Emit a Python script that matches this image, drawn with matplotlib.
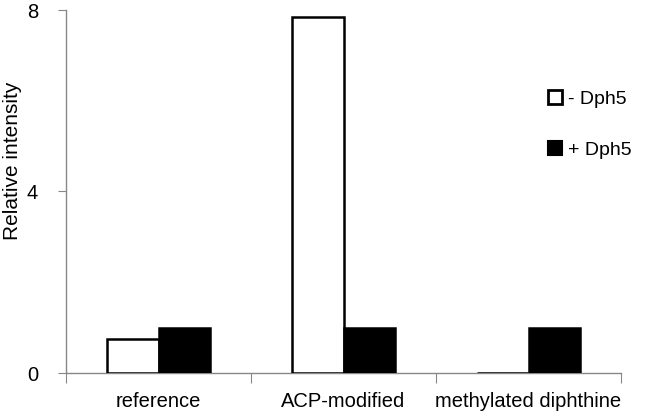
import matplotlib
matplotlib.use("Agg")
import matplotlib.pyplot as plt
import numpy as np
from matplotlib.patches import Patch

plt.rcParams['font.family'] = ['Liberation Sans', 'DejaVu Sans']

categories = ["reference", "ACP-modified", "methylated diphthine"]
minus_dph5 = [0.75, 7.85, 0.0]
plus_dph5 = [1.0, 1.0, 1.0]
series_labels = ["- Dph5", "+ Dph5"]
yticks = [0, 4, 8]

fig = plt.figure(figsize=(6.54, 4.19), dpi=100)
ax = fig.add_axes([66/654, 1-373/419, (621-66)/654, (373-10)/419])

x = np.arange(len(categories))
w = 0.28
ax.bar(x - w/2, minus_dph5, w, color="white", edgecolor="black", linewidth=1.8, zorder=3)
ax.bar(x + w/2, plus_dph5, w, color="black", edgecolor="black", linewidth=1.8, zorder=3)

ax.set_xlim(-0.5, len(categories) - 0.5)
ax.set_ylim(0, 8)
ax.set_yticks(yticks)
ax.set_yticklabels([str(v) for v in yticks], fontsize=14.5)
ax.tick_params(axis='y', direction='out', length=6, color='#888888', pad=14)

ax.set_xticks(np.arange(-0.5, len(categories)), minor=False)
ax.set_xticklabels([""] * (len(categories) + 1))
ax.set_xticks(x, minor=True)
ax.set_xticklabels(categories, minor=True, fontsize=14.5)
ax.tick_params(axis='x', which='major', direction='out', length=7, color='#888888')
ax.tick_params(axis='x', which='minor', length=0, pad=14)

for s in ['top', 'right']:
    ax.spines[s].set_visible(False)
for s in ['left', 'bottom']:
    ax.spines[s].set_color('#888888')
    ax.spines[s].set_linewidth(1.0)

ax.set_ylabel("Relative intensity", fontsize=15)
ax.yaxis.set_label_coords(-0.079, 0.584)

handles = [Patch(facecolor="white", edgecolor="black", linewidth=2.0),
           Patch(facecolor="black", edgecolor="black", linewidth=1.5)]
ax.legend(handles, series_labels, frameon=False, fontsize=14,
          loc='center left', bbox_to_anchor=(548/654, 1-124.5/419), bbox_transform=fig.transFigure,
          borderpad=0, borderaxespad=0,
          handlelength=0.72, handleheight=0.72, handletextpad=0.3, labelspacing=1.7)

fig.savefig("out.png", dpi=100)
